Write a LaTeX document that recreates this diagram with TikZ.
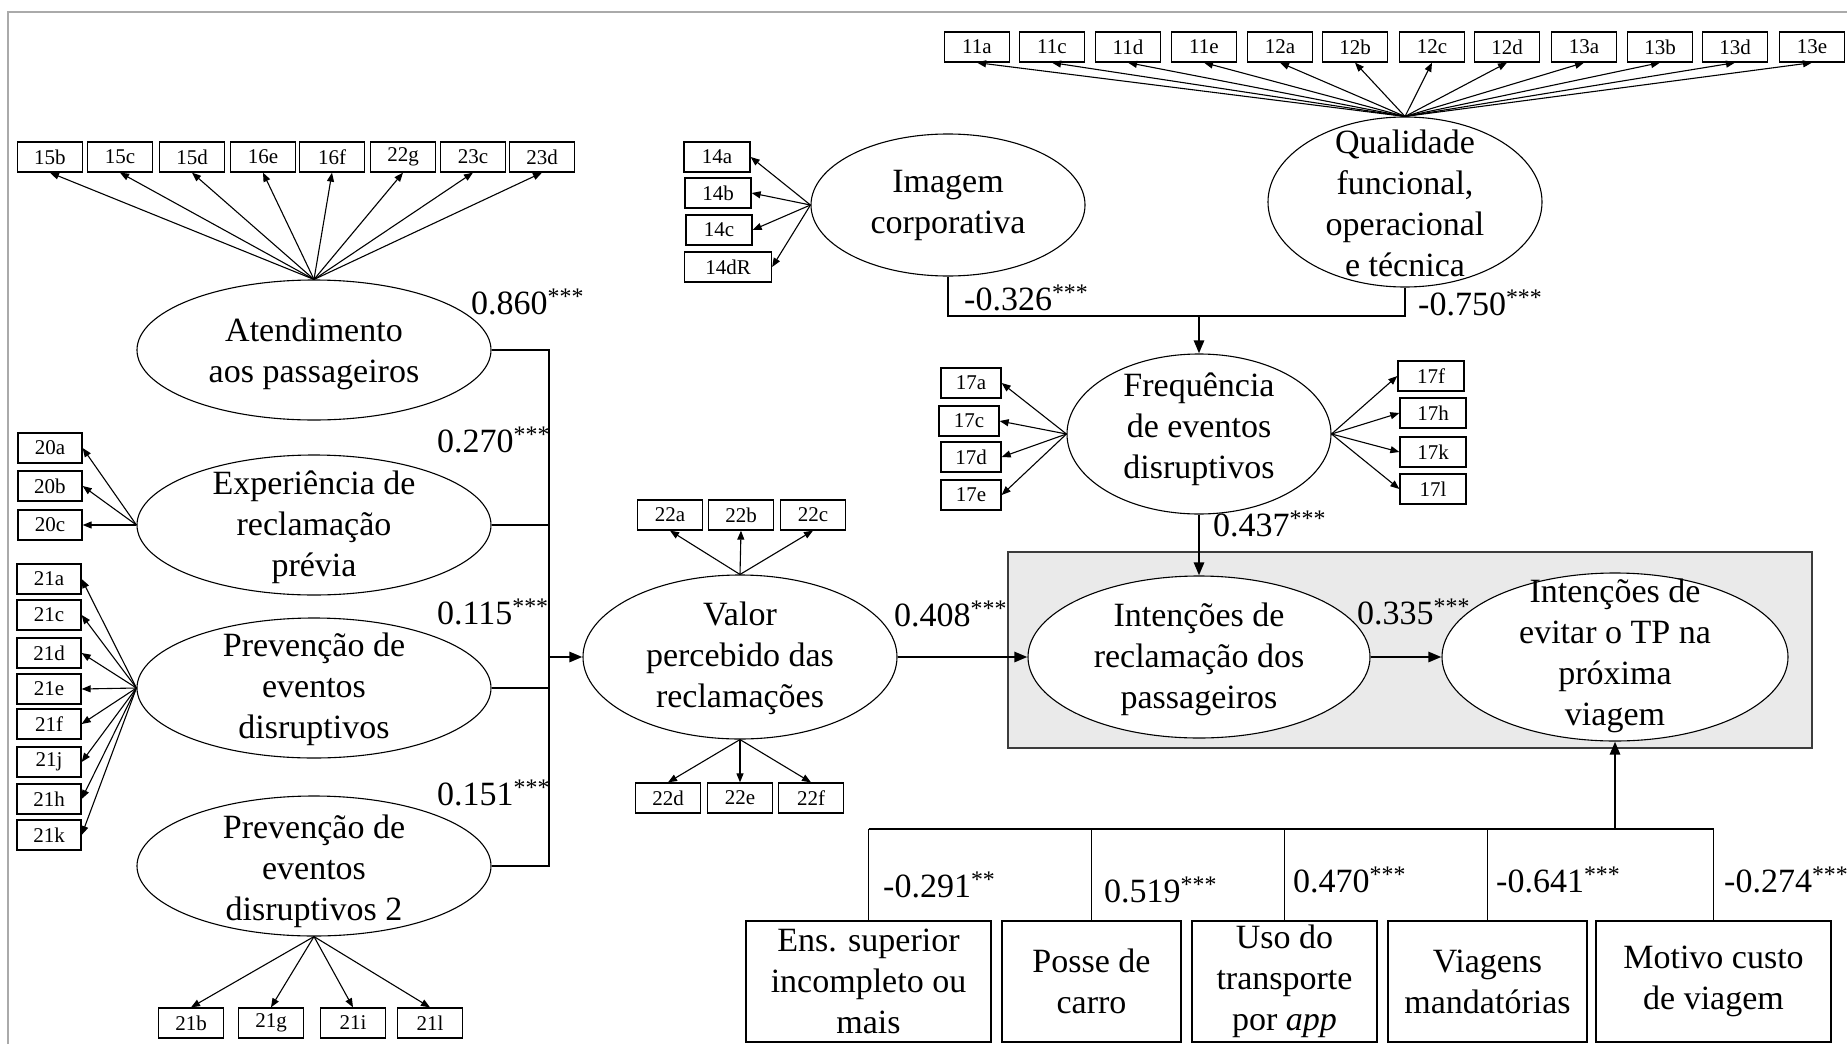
\documentclass[tikz,border=0pt]{standalone}
\usepackage{fontspec}
\setmainfont{Liberation Serif}
\usetikzlibrary{shapes.geometric,arrows.meta}
\definecolor{framegray}{RGB}{170,170,170}
\definecolor{boxgray}{RGB}{234,234,234}
\definecolor{boxedge}{RGB}{60,60,60}
\begin{document}
\begin{tikzpicture}[x=1pt,y=-1pt,
  lat/.style 2 args={ellipse,draw,line width=1.1pt,fill=white,inner sep=0pt,minimum width=#1,minimum height=#2},
  ltext/.style={align=center,inner sep=0pt,font=\fontsize{34}{41}\selectfont},
  ind/.style={draw,line width=1.3pt,fill=white,inner sep=0pt,minimum height=30pt,minimum width=#1,font=\fontsize{21}{24}\selectfont},
  ind/.default=65pt,
  marr/.style={line width=1.1pt,-{Triangle[length=9pt,width=7pt]}},
  struct/.style={line width=2.6pt},
  sarr/.style={line width=2.6pt,-{Triangle[length=13pt,width=10pt]}},
  drop/.style={line width=1.8pt},
  coef/.style={anchor=base west,inner sep=0pt,font=\fontsize{34}{41}\selectfont},
  cbox/.style={draw,line width=1.3pt,fill=white,inner sep=0pt,minimum width=#1,minimum height=121pt,align=center,font=\fontsize{34}{41}\selectfont}
]
\useasboundingbox (0,0) rectangle (1847,1044);
% frame
\draw[framegray,line width=2.5pt] (8,1044) -- (8,12) -- (1847,12);
% grey group box
\node[draw=boxedge,fill=boxgray,line width=1.4pt,minimum width=804pt,minimum height=196pt,inner sep=0pt] (grp) at (1410,650) {};

% latent variables
\node[lat={354pt}{140pt}] (atend) at (314,350) {};
\node[lat={354pt}{140pt}] (exp) at (314,525) {};
\node[lat={354pt}{140pt}] (prev) at (314,688) {};
\node[lat={354pt}{140pt}] (prevb) at (314,866) {};
\node[lat={274pt}{142pt}] (img) at (948,205) {};
\node[lat={274pt}{170pt}] (qual) at (1405,202) {};
\node[lat={264pt}{160pt}] (freq) at (1199,434) {};
\node[lat={314pt}{164pt}] (valor) at (740,657) {};
\node[lat={342pt}{162pt}] (recl) at (1199,657) {};
\node[lat={346pt}{168pt}] (evit) at (1615,657) {};

\node[ltext] (atendT) at (314,354) {Atendimento\\aos passageiros};
\node[ltext] (expT) at (314,527) {Experiência de\\reclamação\\prévia};
\node[ltext] (prevT) at (314,689) {Prevenção de\\eventos\\disruptivos};
\node[ltext] (prevbT) at (314,871) {Prevenção de\\eventos\\disruptivos 2};
\node[ltext] (imgT) at (948,205) {Imagem\\corporativa};
\node[ltext] (qualT) at (1405,203) {Qualidade\\funcional,\\operacional\\e técnica};
\node[ltext] (freqT) at (1199,429) {Frequência\\de eventos\\disruptivos};
\node[ltext] (valorT) at (740,658) {Valor\\percebido das\\reclamações};
\node[ltext] (reclT) at (1199,659) {Intenções de\\reclamação dos\\passageiros};
\node[ltext] (evitT) at (1615,656) {Intenções de\\evitar o TP na\\próxima\\viagem};

% indicators
\foreach \n/\x in {15b/50,15c/120,15d/192,16e/263,16f/332,22g/403,23c/473,23d/542}{
  \node[ind] (b\n) at (\x,157) {\n};
  \draw[marr] (atend.north) -- (b\n.south);
}
\foreach \n/\y in {20a/448,20b/486,20c/525}{
  \node[ind=64pt] (b\n) at (50,\y) {\n};
  \draw[marr] (exp.west) -- (b\n.east);
}
\foreach \n/\y in {21a/579,21c/615,21d/653,21e/689,21f/724,21j/762,21h/799,21k/835}{
  \node[ind=64pt] (b\n) at (49,\y) {\n};
  \draw[marr] (prev.west) -- (b\n.east);
}
\foreach \n/\x in {21b/191,21g/271,21i/353,21l/430}{
  \node[ind] (b\n) at (\x,1023) {\n};
  \draw[marr] (prevb.south) -- (b\n.north);
}
\foreach \n/\x/\y/\w in {14a/717/157/66,14b/718/193/66,14c/719/230/66,14dR/728/267/87}{
  \node[ind=\w pt] (b\n) at (\x,\y) {\n};
  \draw[marr] (img.west) -- (b\n.east);
}
\foreach \n/\x in {11a/977,11c/1052,11d/1128,11e/1204,12a/1280,12b/1355,12c/1432,12d/1507,13a/1584,13b/1660,13d/1735,13e/1812}{
  \node[ind] (b\n) at (\x,47) {\n};
  \draw[marr] (qual.north) -- (b\n.south);
}
\foreach \n/\x/\y in {17a/971/383,17c/969/421,17d/971/457,17e/971/495}{
  \node[ind=60pt] (b\n) at (\x,\y) {\n};
  \draw[marr] (freq.west) -- (b\n.east);
}
\foreach \n/\x/\y in {17f/1431/376,17h/1433/413,17k/1433/452,17l/1433/489}{
  \node[ind=66pt] (b\n) at (\x,\y) {\n};
  \draw[marr] (freq.east) -- (b\n.west);
}
\foreach \n/\x in {22a/670,22b/741,22c/813}{
  \node[ind] (b\n) at (\x,515) {\n};
  \draw[marr] (valor.north) -- (b\n.south);
}
\foreach \n/\x in {22d/668,22e/740,22f/811}{
  \node[ind] (b\n) at (\x,798) {\n};
  \draw[marr] (valor.south) -- (b\n.north);
}

% covariate boxes
\node[cbox=245pt] (c1) at (868.5,981.5) {Ens. superior\\incompleto ou\\mais};
\node[cbox=179pt] (c2) at (1091.5,981.5) {Posse de\\carro};
\node[cbox=185pt] (c3) at (1284.5,981.5) {Uso do\\transporte\\por \textit{app}};
\node[cbox=199pt] (c4) at (1487.5,981.5) {Viagens\\mandatórias};
\node[cbox=235pt] (c5) at (1713.5,981.5) {Motivo custo\\de viagem};

% structural paths, left
\coordinate (busT) at (549,350);
\coordinate (busB) at (549,866);
\draw[struct] (atend.east) -- (busT) -- (busB) -- (prevb.east);
\draw[struct] (exp.east) -- (exp.east -| busT);
\draw[struct] (prev.east) -- (prev.east -| busT);
\draw[sarr] (valor.west -| busT) -- (valor.west);

% structural paths, top
\coordinate (jIQ) at (1199,316);
\draw[struct] (img.south) |- (jIQ) -| (qual.south);
\draw[sarr] (jIQ) -- (freq.north);
\draw[sarr] (freq.south) -- (recl.north);
\draw[sarr] (valor.east) -- (recl.west);
\draw[sarr] (recl.east) -- (evit.west);

% covariates
\coordinate (busL) at (868.5,829);
\coordinate (busR) at (1713.5,829);
\coordinate (busM) at (1615,829);
\draw[struct] (busL) -- (busM);
\draw[drop] (busM) -- (busR);
\draw[sarr] (busM) -- (evit.south);
\draw[drop] (busL) -- (c1.north);
\draw[drop] (c2.north |- busL) -- (c2.north);
\draw[drop] (c3.north |- busL) -- (c3.north);
\draw[drop] (c4.north |- busL) -- (c4.north);
\draw[drop] (busR) -- (c5.north);

% coefficients
\node[coef] (k1) at (471,314) {0.860\textsuperscript{***}};
\node[coef] (k2) at (437,452) {0.270\textsuperscript{***}};
\node[coef] (k3) at (437,624) {0.115\textsuperscript{***}};
\node[coef] (k4) at (437,805) {0.151\textsuperscript{***}};
\node[coef] (k5) at (894,626) {0.408\textsuperscript{***}};
\node[coef] (k6) at (964,310) {-0.326\textsuperscript{***}};
\node[coef] (k7) at (1418,315) {-0.750\textsuperscript{***}};
\node[coef] (k8) at (1213,536) {0.437\textsuperscript{***}};
\node[coef] (k9) at (1357,624) {0.335\textsuperscript{***}};
\node[coef] (k10) at (883,897) {-0.291\textsuperscript{**}};
\node[coef] (k11) at (1104,902) {0.519\textsuperscript{***}};
\node[coef] (k12) at (1293,892) {0.470\textsuperscript{***}};
\node[coef] (k13) at (1496,892) {-0.641\textsuperscript{***}};
\node[coef] (k14) at (1724,892) {-0.274\textsuperscript{***}};
\end{tikzpicture}
\end{document}
